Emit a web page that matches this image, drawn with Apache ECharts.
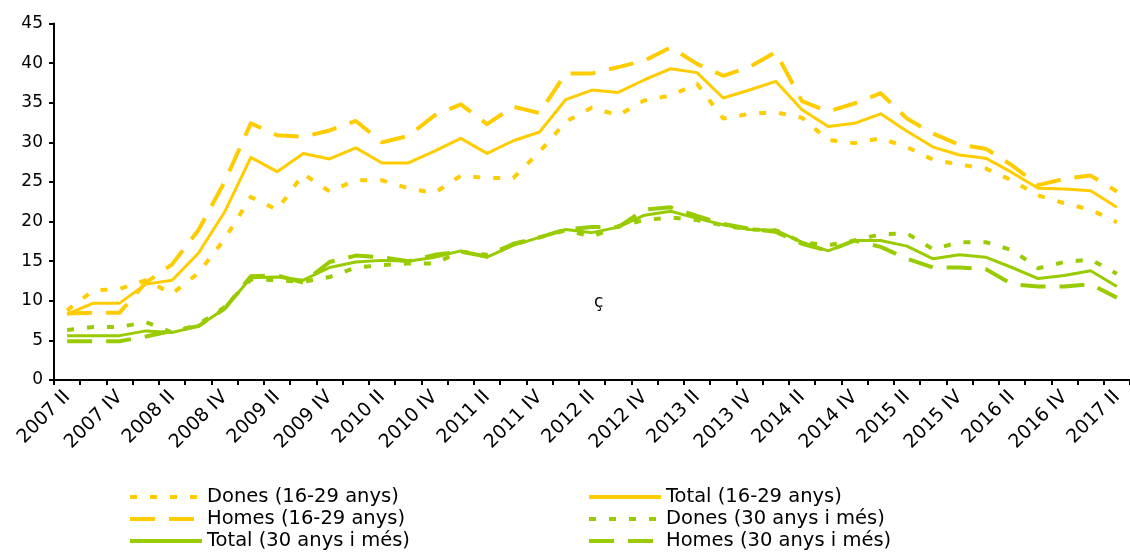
<!DOCTYPE html>
<html>
<head>
<meta charset="utf-8">
<script src="https://cdn.jsdelivr.net/npm/echarts@6/dist/echarts.min.js"></script>
<style>html,body{margin:0;padding:0;background:#fff}#c{width:1130px;height:554px}</style>
</head>
<body>
<div id="c"></div>
<script>
const categories = ['2007 II','2007 III','2007 IV',
 '2008 I','2008 II','2008 III','2008 IV',
 '2009 I','2009 II','2009 III','2009 IV',
 '2010 I','2010 II','2010 III','2010 IV',
 '2011 I','2011 II','2011 III','2011 IV',
 '2012 I','2012 II','2012 III','2012 IV',
 '2013 I','2013 II','2013 III','2013 IV',
 '2014 I','2014 II','2014 III','2014 IV',
 '2015 I','2015 II','2015 III','2015 IV',
 '2016 I','2016 II','2016 III','2016 IV',
 '2017 I','2017 II'];

const dones16 = [8.8,11.3,11.5,12.6,10.9,13.5,17.8,23.1,21.5,26.0,23.8,25.2,25.2,24.2,23.6,25.8,25.5,25.5,28.8,32.6,34.4,33.4,35.3,35.9,37.4,33.0,33.6,33.8,33.1,30.3,29.9,30.5,29.4,27.8,27.2,26.7,25.2,23.3,22.3,21.5,19.9];
const total16 = [8.3,9.7,9.7,12.1,12.6,16.0,21.2,28.1,26.3,28.6,27.9,29.3,27.4,27.4,28.9,30.5,28.6,30.2,31.3,35.4,36.6,36.3,37.9,39.3,38.8,35.6,36.6,37.7,34.1,32.0,32.4,33.6,31.4,29.4,28.4,28.0,26.2,24.2,24.1,23.9,21.8];
const homes16 = [8.4,8.5,8.5,12.3,14.6,18.9,25.0,32.4,30.9,30.7,31.5,32.7,30.0,30.8,33.4,34.8,32.3,34.5,33.7,38.7,38.7,39.5,40.3,42.0,39.9,38.4,39.5,41.4,35.2,33.9,34.9,36.2,33.0,31.1,29.7,29.2,27.1,24.6,25.4,25.8,23.8];
const dones30 = [6.3,6.7,6.7,7.3,6.0,7.0,9.2,12.7,12.6,12.4,13.0,14.2,14.5,14.7,14.7,16.2,15.8,17.1,18.0,18.9,18.1,19.4,20.2,20.5,20.2,19.5,19.0,18.9,17.4,17.0,17.6,18.4,18.5,16.5,17.4,17.4,16.4,14.1,14.9,15.2,13.4];
const total30 = [5.6,5.6,5.6,6.2,6.0,6.8,9.0,12.9,13.0,12.6,14.2,14.9,15.1,15.0,15.5,16.3,15.5,17.0,18.0,19.0,18.6,19.3,20.8,21.3,20.4,19.6,19.0,18.9,17.4,16.3,17.6,17.6,16.9,15.3,15.8,15.5,14.2,12.8,13.2,13.8,11.8];
const homes30 = [4.9,4.9,4.9,5.5,6.2,6.8,9.0,13.1,13.2,12.3,14.9,15.7,15.5,15.0,15.8,16.2,15.6,17.2,18.0,19.0,19.3,19.3,21.5,21.8,20.7,19.7,19.1,18.7,17.2,16.3,17.6,16.8,15.3,14.2,14.2,14.0,12.1,11.8,11.8,12.1,10.4];

const yTicks = {min: 0, max: 45, interval: 5};
const seriesNames = ['Dones (16-29 anys)','Total (16-29 anys)','Homes (16-29 anys)','Dones (30 anys i més)','Total (30 anys i més)','Homes (30 anys i més)'];
const annotation = 'ç';

const YEL = '#FFCC00', GRN = '#99CC00';
const DOT = [7, 13], DASH = [25, 14];
function mk(name, data, color, type, width) {
  return {name, type: 'line', data, symbol: 'none', animation: false,
    lineStyle: {color, width, type, cap: 'butt', join: 'round'}, itemStyle: {color}};
}
const font = '"DejaVu Sans", sans-serif';
const legendCommon = {
  orient: 'vertical', top: 486, padding: 0, itemGap: 0, itemWidth: 72, itemHeight: 22,
  selectedMode: false, itemStyle: {opacity: 0}, lineStyle: {width: 4},
  textStyle: {fontFamily: font, fontSize: 19.5, color: '#000', lineHeight: 22}
};
const chart = echarts.init(document.getElementById('c'), null, {renderer: 'canvas'});
chart.setOption({
  animation: false,
  backgroundColor: '#fff',
  grid: {left: 54, top: 23.5, width: 1083, bottom: 174, containLabel: false},
  xAxis: {
    type: 'category', data: categories, boundaryGap: true,
    axisLine: {lineStyle: {color: '#000', width: 2}},
    axisTick: {show: true, interval: 0, length: 5, lineStyle: {color: '#000', width: 2}, inside: false},
    axisLabel: {interval: 1, rotate: 45, color: '#000', fontFamily: font, fontSize: 19, margin: 14},
    splitLine: {show: false}
  },
  yAxis: {
    type: 'value', min: yTicks.min, max: yTicks.max, interval: yTicks.interval,
    axisLine: {show: true, lineStyle: {color: '#000', width: 2}},
    axisTick: {show: true, length: 5, lineStyle: {color: '#000', width: 2}},
    axisLabel: {color: '#000', fontFamily: font, fontSize: 17, margin: 11},
    splitLine: {show: false}
  },
  legend: [
    Object.assign({}, legendCommon, {left: 128, data: [seriesNames[0], seriesNames[2], seriesNames[4]]}),
    Object.assign({}, legendCommon, {left: 587, data: [seriesNames[1], seriesNames[3], seriesNames[5]]})
  ],
  graphic: [{type: 'text', left: 594, top: 294, style: {text: annotation, font: '17px ' + font, fill: '#000'}}],
  series: [
    mk(seriesNames[0], dones16, YEL, DOT, 4),
    mk(seriesNames[1], total16, YEL, 'solid', 3),
    mk(seriesNames[2], homes16, YEL, DASH, 4),
    mk(seriesNames[3], dones30, GRN, DOT, 4),
    mk(seriesNames[4], total30, GRN, 'solid', 3),
    mk(seriesNames[5], homes30, GRN, DASH, 4)
  ]
});
</script>
</body>
</html>
